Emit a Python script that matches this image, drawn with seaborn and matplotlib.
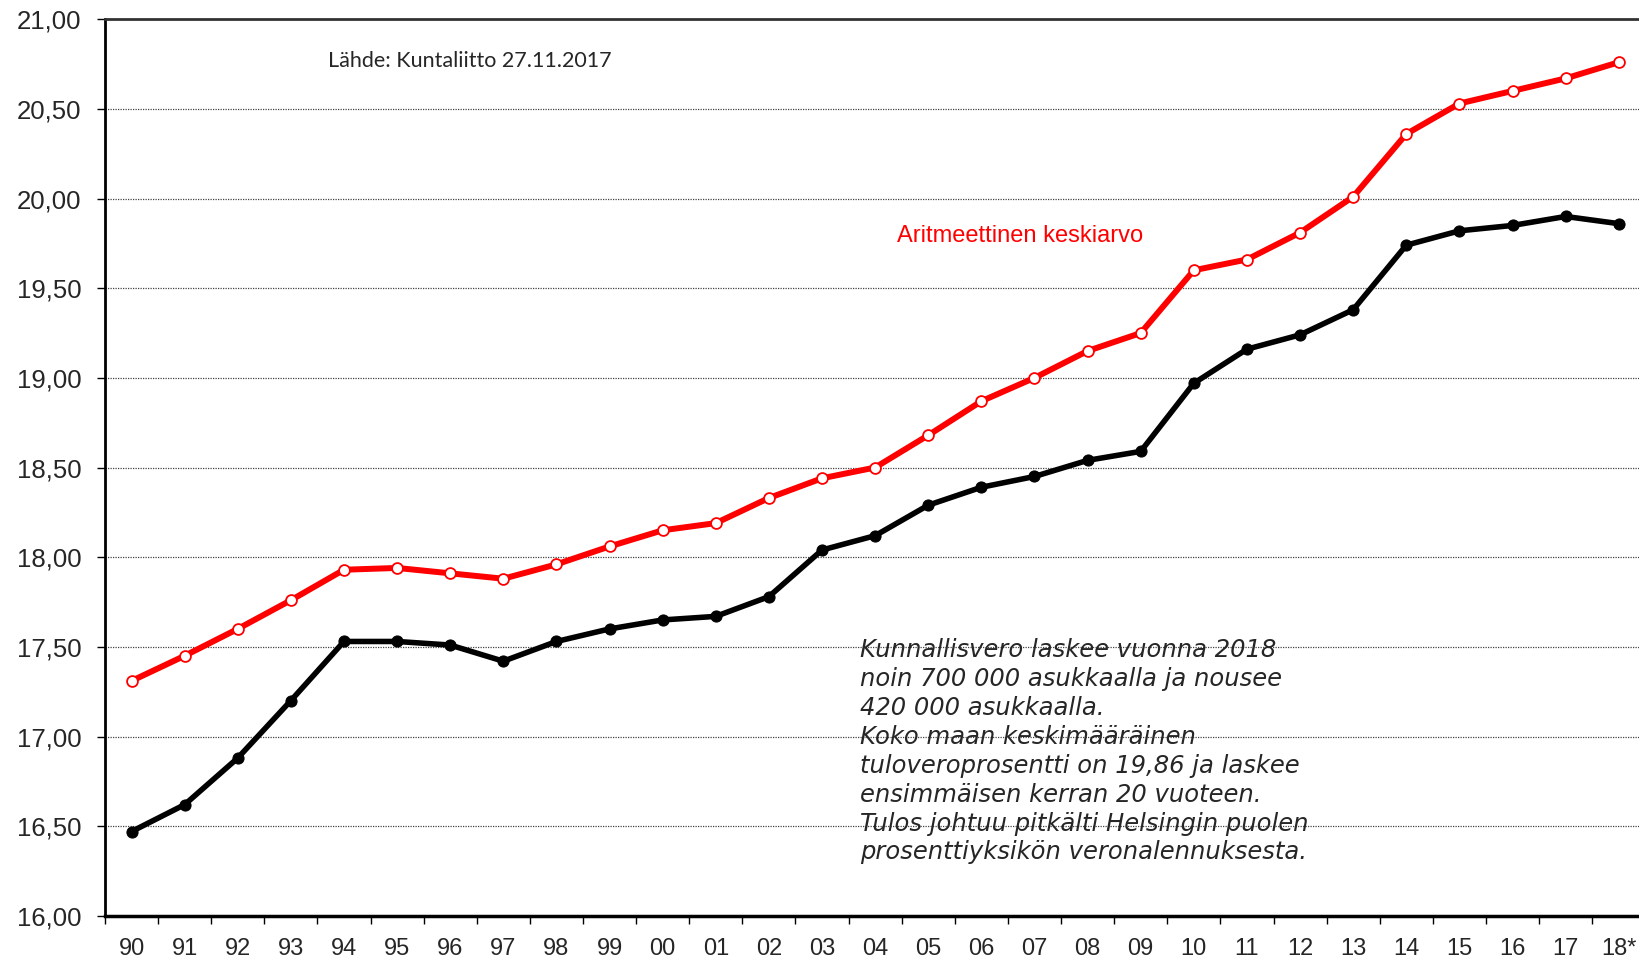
import numpy as np
import pandas as pd
import matplotlib
matplotlib.use("Agg")
import matplotlib.pyplot as plt
import seaborn as sns

# vuodet ja tuloveroprosentit
years = ["90", "91", "92", "93", "94", "95", "96", "97", "98", "99", "00", "01", "02", "03", "04",
         "05", "06", "07", "08", "09", "10", "11", "12", "13", "14", "15", "16", "17", "18*"]
arith_mean = [17.31, 17.45, 17.60, 17.76, 17.93, 17.94, 17.91, 17.88, 17.96, 18.06, 18.15, 18.19, 18.33, 18.44, 18.50,
              18.68, 18.87, 19.00, 19.15, 19.25, 19.60, 19.66, 19.81, 20.01, 20.36, 20.53, 20.60, 20.67, 20.76]
weighted_mean = [16.47, 16.62, 16.88, 17.20, 17.53, 17.53, 17.51, 17.42, 17.53, 17.60, 17.65, 17.67, 17.78, 18.04, 18.12,
                 18.29, 18.39, 18.45, 18.54, 18.59, 18.97, 19.16, 19.24, 19.38, 19.74, 19.82, 19.85, 19.90, 19.86]
y_ticks = [16.0, 16.5, 17.0, 17.5, 18.0, 18.5, 19.0, 19.5, 20.0, 20.5, 21.0]

note = ("Kunnallisvero laskee vuonna 2018\n"
        "noin 700 000 asukkaalla ja nousee\n"
        "420 000 asukkaalla.\n"
        "Koko maan keskimääräinen\n"
        "tuloveroprosentti on 19,86 ja laskee\n"
        "ensimmäisen kerran 20 vuoteen.\n"
        "Tulos johtuu pitkälti Helsingin puolen\n"
        "prosenttiyksikön veronalennuksesta.")

df = pd.DataFrame({"pos": np.arange(len(years)), "arith": arith_mean, "weighted": weighted_mean})

sns.set_style("white")
plt.rcParams["font.family"] = ["Liberation Sans", "DejaVu Sans"]

fig = plt.figure(figsize=(16.4, 9.61), dpi=100)
ax = fig.add_axes([0.064, 0.047, 0.936, 0.933])

# gridlines
for y in y_ticks[1:-1]:
    ax.axhline(y, color="#444444", lw=0.9, ls=(0, (1, 1)), zorder=0)

sns.lineplot(data=df, x="pos", y="arith", ax=ax, color="#ff0000", lw=4.3, marker="o", markersize=7.8,
             markerfacecolor="white", markeredgecolor="#ff0000", markeredgewidth=1.3, zorder=3)
sns.lineplot(data=df, x="pos", y="weighted", ax=ax, color="black", lw=4, marker="o", markersize=8,
             markerfacecolor="black", markeredgecolor="black", zorder=3)

ax.set_xlim(-0.5, len(years) - 0.6)
ax.set_ylim(16, 21)
ax.set_yticks(y_ticks)
ax.set_yticklabels([f"{v:.2f}".replace(".", ",") for v in y_ticks], fontsize=18.5)
ax.set_xticks(np.arange(len(years)))
ax.set_xticklabels(years, fontsize=17)
ax.set_xticks(np.arange(len(years)) - 0.5, minor=True)
ax.tick_params(axis="x", which="major", length=0, pad=16)
ax.tick_params(axis="x", which="minor", length=6, width=1, color="black", direction="out", bottom=True)
ax.tick_params(axis="y", length=6, width=1, color="black", direction="out", left=True, pad=11)
ax.set_xlabel("")
ax.set_ylabel("")

for side in ["left", "bottom", "top"]:
    ax.spines[side].set_color("black")
ax.spines["left"].set_linewidth(2)
ax.spines["bottom"].set_linewidth(2.5)
ax.spines["top"].set_linewidth(2)
ax.spines["top"].set_color("#333333")
ax.spines["right"].set_visible(False)

ax.text(0.145, 0.953, "Lähde: Kuntaliitto 27.11.2017", transform=ax.transAxes, fontsize=15.5,
        family=["Lato", "DejaVu Sans"], va="center", ha="left")
ax.text(0.516, 0.758, "Aritmeettinen keskiarvo", transform=ax.transAxes, fontsize=17,
        color="#ff0000", va="center", ha="left")
ax.text(0.492, 0.310, note, transform=ax.transAxes, fontsize=17.5, style="italic",
        family=["DejaVu Sans"], va="top", ha="left", linespacing=1.26)

plt.savefig("out.png", dpi=100)
